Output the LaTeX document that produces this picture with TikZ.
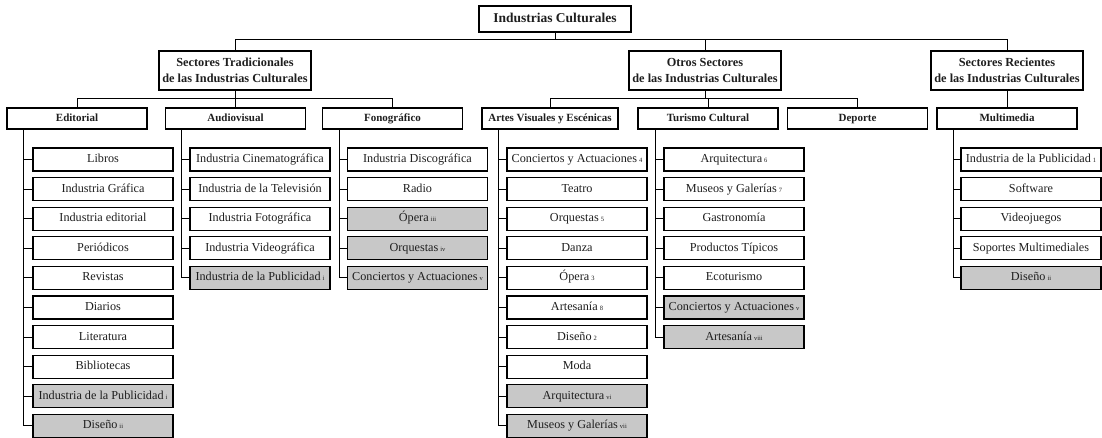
\documentclass[tikz,border=0pt]{standalone}
\usepackage{fontspec}
\setmainfont{Liberation Serif}
\usepackage{xcolor}
\usetikzlibrary{calc,positioning}
\definecolor{shade}{RGB}{200,200,200}
\definecolor{ink}{RGB}{30,30,30}
\newcommand{\smallmark}[1]{\,{\fontsize{6.5}{7}\selectfont #1}}

\begin{document}
\begin{tikzpicture}[x=1pt, y=-1pt]
		\tikzstyle{every node}=[font=\fontsize{12.2}{14}\selectfont, text=ink]
		\tikzstyle{item}=[draw=black, line width=1.1pt, minimum width=140, minimum height=23, inner sep=0pt, text height=8.6pt, text depth=2.6pt]
		\tikzstyle{greyitem}=[item, fill=shade]
		\tikzstyle{sector}=[item, minimum height=21, text height=7.8pt, text depth=2.4pt, font=\bfseries\fontsize{11}{12}\selectfont]
		\tikzstyle{group}=[draw=black, line width=1.1pt, minimum width=152, minimum height=39, inner sep=0pt, align=center, font=\bfseries\fontsize{12.3}{16}\selectfont]
		\tikzstyle{link}=[line width=1pt, black]
		\useasboundingbox (0,0) rectangle (1102,438);
		% top and sectors
		\node [item, minimum width=152, minimum height=26, text height=9.4pt, text depth=2.8pt, font=\bfseries\fontsize{13.5}{15}\selectfont] (top) at (555,19) {Industrias Culturales};
		\node [group] (trad) at (235,70.5) {Sectores Tradicionales\\de las Industrias Culturales};
		\node [group] (otros) at (705,70.5) {Otros Sectores\\de las Industrias Culturales};
		\node [group] (rec) at (1007,70.5) {Sectores Recientes\\de las Industrias Culturales};
		\node [sector] (ed) at (77,118.5) {Editorial};
		\node [sector] (aud) at (235.5,118.5) {Audiovisual};
		\node [sector] (fon) at (392.5,118.5) {Fonográfico};
		\node [sector, minimum width=136] (art) at (550,118.5) {Artes Visuales y Escénicas};
		\node [sector] (tur) at (708,118.5) {Turismo Cultural};
		\node [sector] (dep) at (857.5,118.5) {Deporte};
		\node [sector] (mul) at (1007,118.5) {Multimedia};
		\coordinate (bar1) at (0,40);
		\coordinate (bar2) at (0,98.5);
		\draw [link] (trad.north) |- (bar1 -| rec.north) -- (rec.north);
		\draw [link] (top.south) -- (top.south |- bar1);
		\draw [link] (otros.north) -- (otros.north |- bar1);
		\draw [link] (ed.north) |- (bar2 -| fon.north) -- (fon.north);
		\draw [link] (trad.south) -- (trad.south |- bar2);
		\draw [link] (aud.north) -- (aud.north |- bar2);
		\draw [link] (art.north) |- (bar2 -| dep.north) -- (dep.north);
		\draw [link] (otros.south) -- (otros.south |- bar2);
		\draw [link] (tur.north) -- (tur.north |- bar2);
		\draw [link] (rec.south) -- (mul.north);
		% Editorial
		\node [item] (ed1) at (103,159.5) {Libros};
		\node [item] (ed2) at (103,189.1) {Industria Gráfica};
		\node [item] (ed3) at (103,218.7) {Industria editorial};
		\node [item] (ed4) at (103,248.3) {Periódicos};
		\node [item] (ed5) at (103,277.9) {Revistas};
		\node [item] (ed6) at (103,307.5) {Diarios};
		\node [item] (ed7) at (103,337.1) {Literatura};
		\node [item] (ed8) at (103,366.7) {Bibliotecas};
		\node [greyitem] (ed9) at (103,396.3) {Industria de la Publicidad\smallmark{i}};
		\node [greyitem] (ed10) at (103,425.9) {Diseño\smallmark{ii}};
		% Audiovisual
		\node [item] (au1) at (260,159.5) {Industria Cinematográfica};
		\node [item] (au2) at (260,189.1) {Industria de la Televisión};
		\node [item] (au3) at (260,218.7) {Industria Fotográfica};
		\node [item] (au4) at (260,248.3) {Industria Videográfica};
		\node [greyitem] (au5) at (260,277.9) {Industria de la Publicidad\smallmark{i}};
		% Fonografico
		\node [item] (fo1) at (417.5,159.5) {Industria Discográfica};
		\node [item] (fo2) at (417.5,189.1) {Radio};
		\node [greyitem] (fo3) at (417.5,218.7) {Ópera\smallmark{iii}};
		\node [greyitem] (fo4) at (417.5,248.3) {Orquestas\smallmark{iv}};
		\node [greyitem] (fo5) at (417.5,277.9) {Conciertos y Actuaciones\smallmark{v}};
		% Artes Visuales y Escenicas
		\node [item] (ar1) at (577,159.5) {Conciertos y Actuaciones\smallmark{4}};
		\node [item] (ar2) at (577,189.1) {Teatro};
		\node [item] (ar3) at (577,218.7) {Orquestas\smallmark{5}};
		\node [item] (ar4) at (577,248.3) {Danza};
		\node [item] (ar5) at (577,277.9) {Ópera\smallmark{3}};
		\node [item] (ar6) at (577,307.5) {Artesanía\smallmark{8}};
		\node [item] (ar7) at (577,337.1) {Diseño\smallmark{2}};
		\node [item] (ar8) at (577,366.7) {Moda};
		\node [greyitem] (ar9) at (577,396.3) {Arquitectura\smallmark{vi}};
		\node [greyitem] (ar10) at (577,425.9) {Museos y Galerías\smallmark{vii}};
		% Turismo Cultural
		\node [item] (tu1) at (734,159.5) {Arquitectura\smallmark{6}};
		\node [item] (tu2) at (734,189.1) {Museos y Galerías\smallmark{7}};
		\node [item] (tu3) at (734,218.7) {Gastronomía};
		\node [item] (tu4) at (734,248.3) {Productos Típicos};
		\node [item] (tu5) at (734,277.9) {Ecoturismo};
		\node [greyitem] (tu6) at (734,307.5) {Conciertos y Actuaciones\smallmark{v}};
		\node [greyitem] (tu7) at (734,337.1) {Artesanía\smallmark{viii}};
		% Multimedia
		\node [item] (mu1) at (1031,159.5) {Industria de la Publicidad\smallmark{1}};
		\node [item] (mu2) at (1031,189.1) {Software};
		\node [item] (mu3) at (1031,218.7) {Videojuegos};
		\node [item] (mu4) at (1031,248.3) {Soportes Multimediales};
		\node [greyitem] (mu5) at (1031,277.9) {Diseño\smallmark{ii}};
		% trunks
		\coordinate (edx) at (23,0);
		\coordinate (aux) at (181.5,0);
		\coordinate (fox) at (339.5,0);
		\coordinate (arx) at (498,0);
		\coordinate (tux) at (655.5,0);
		\coordinate (mux) at (953.5,0);
		\draw [link] (ed.south -| edx) |- (ed10.west);
		\draw [link] (aud.south -| aux) |- (au5.west);
		\draw [link] (fon.south -| fox) |- (fo5.west);
		\draw [link] (art.south -| arx) |- (ar10.west);
		\draw [link] (tur.south -| tux) |- (tu7.west);
		\draw [link] (mul.south -| mux) |- (mu5.west);
		\foreach \i in {1,...,9} \draw [link] (ed\i.west) -- (ed\i.west -| edx);
		\foreach \i in {1,...,4} \draw [link] (au\i.west) -- (au\i.west -| aux);
		\foreach \i in {1,...,4} \draw [link] (fo\i.west) -- (fo\i.west -| fox);
		\foreach \i in {1,...,9} \draw [link] (ar\i.west) -- (ar\i.west -| arx);
		\foreach \i in {1,...,6} \draw [link] (tu\i.west) -- (tu\i.west -| tux);
		\foreach \i in {1,...,4} \draw [link] (mu\i.west) -- (mu\i.west -| mux);
	\end{tikzpicture}
\end{document}
